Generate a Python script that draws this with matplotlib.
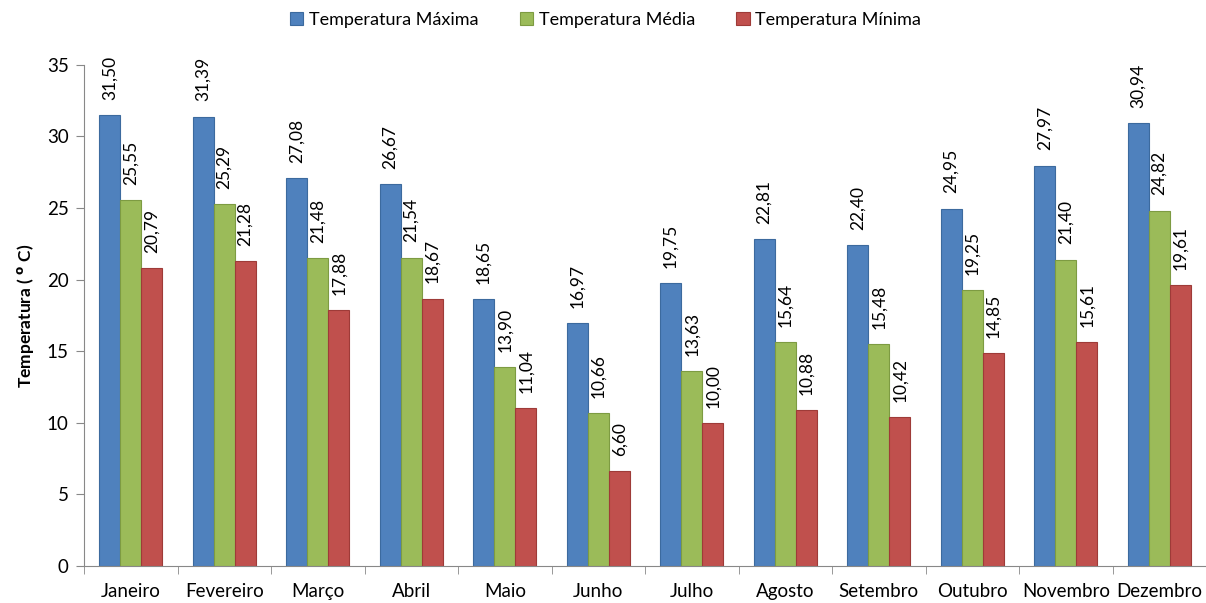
import matplotlib
matplotlib.use('Agg')
import matplotlib.pyplot as plt
import numpy as np

plt.rcParams['font.family'] = ['Lato', 'DejaVu Sans']

# Monthly temperature data
meses = ['Janeiro', 'Fevereiro', 'Março', 'Abril', 'Maio', 'Junho',
         'Julho', 'Agosto', 'Setembro', 'Outubro', 'Novembro', 'Dezembro']
temp_max = [31.50, 31.39, 27.08, 26.67, 18.65, 16.97, 19.75, 22.81, 22.40, 24.95, 27.97, 30.94]
temp_med = [25.55, 25.29, 21.48, 21.54, 13.90, 10.66, 13.63, 15.64, 15.48, 19.25, 21.40, 24.82]
temp_min = [20.79, 21.28, 17.88, 18.67, 11.04, 6.60, 10.00, 10.88, 10.42, 14.85, 15.61, 19.61]

series = [
    ('Temperatura Máxima', temp_max, '#4F81BD', '#3C6A9E'),
    ('Temperatura Média', temp_med, '#9BBB59', '#7D9B42'),
    ('Temperatura Mínima', temp_min, '#C0504D', '#9E3B38'),
]

fig = plt.figure(figsize=(12.06, 6.03), dpi=100)
ax = fig.add_axes([0.0697, 0.0614, 0.9303, 0.831])

x = np.arange(len(meses))
w = 0.225
for i, (name, vals, fc, ec) in enumerate(series):
    pos = x + (i - 1) * w
    ax.bar(pos, vals, w, color=fc, edgecolor=ec, linewidth=0.8, label=name)
    for px, v in zip(pos, vals):
        ax.annotate(f'{v:.2f}'.replace('.', ','), (px, v), xytext=(0, 11),
                    textcoords='offset points', rotation=90, ha='center',
                    va='bottom', fontsize=12.5, color='#000000')

ax.set_xlim(-0.5, len(meses) - 0.5)
ax.set_ylim(0, 35)
ax.set_yticks(range(0, 36, 5))
ax.set_yticklabels([str(t) for t in range(0, 36, 5)], fontsize=13.5)

# category labels centered, tick marks on the boundaries
ax.set_xticks(x)
ax.set_xticklabels(meses, fontsize=13.5)
ax.tick_params(axis='x', length=0, pad=12)
ax.set_xticks(np.arange(-0.5, len(meses), 1), minor=True)
ax.tick_params(axis='x', which='minor', length=6, color='#888888')
ax.tick_params(axis='y', length=6, color='#888888', pad=5)

for s in ['top', 'right']:
    ax.spines[s].set_visible(False)
for s in ['left', 'bottom']:
    ax.spines[s].set_color('#888888')

ax.set_ylabel('Temperatura ( $^{\\mathbf{o}}$ C)', fontsize=12.5, fontweight='bold', labelpad=8)

fig.legend(loc='center', bbox_to_anchor=(0.502, 0.967), ncol=3, frameon=False,
           fontsize=13, handlelength=0.75, handleheight=0.75, handletextpad=0.3,
           columnspacing=2.3)

fig.savefig('out.png', dpi=100)
